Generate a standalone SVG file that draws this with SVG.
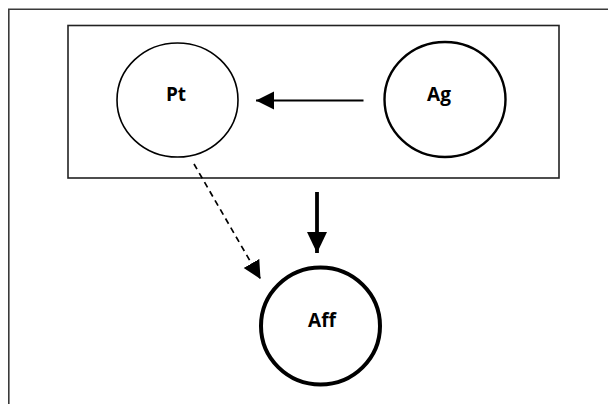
<svg xmlns="http://www.w3.org/2000/svg" width="608" height="404" viewBox="0 0 608 404">
<style>
.lbl{font-family:"Open Sans","Noto Sans","Liberation Sans",sans-serif;font-weight:bold;font-size:19px;fill:#000;text-anchor:middle}
.frame{fill:none;stroke:#3a3a3a;stroke-width:1.6}
</style>
<defs>
<marker id="ah" markerUnits="userSpaceOnUse" markerWidth="20" markerHeight="20" refX="18" refY="9" orient="auto">
<path d="M0,0 L18,9 L0,18 Z" fill="#000"/>
</marker>
<marker id="ahBig" markerUnits="userSpaceOnUse" markerWidth="22" markerHeight="22" refX="21" refY="10" orient="auto">
<path d="M0,0 L21,10 L0,20 Z" fill="#000"/>
</marker>
</defs>
<rect width="608" height="404" fill="#fff"/>
<path class="frame" d="M8.8,404 V9.3 H608"/>
<g id="group-box"><rect x="68" y="25.5" width="491" height="152.5" fill="none" stroke="#222" stroke-width="1.6"/></g>
<g id="node-pt">
<ellipse cx="177.5" cy="100" rx="60.5" ry="57" fill="none" stroke="#000" stroke-width="1.6"/>
<text class="lbl" x="176" y="100.5">Pt</text>
</g>
<g id="node-ag">
<ellipse cx="445" cy="99.5" rx="60.5" ry="57.5" fill="none" stroke="#000" stroke-width="2.4"/>
<text class="lbl" x="439" y="100.5">Ag</text>
</g>
<g id="node-aff">
<ellipse cx="320.5" cy="326" rx="59.5" ry="58.5" fill="none" stroke="#000" stroke-width="4"/>
<text class="lbl" x="322" y="326.5">Aff</text>
</g>
<g id="connectors">
<line x1="363.5" y1="100.5" x2="256" y2="100.5" stroke="#000" stroke-width="1.8" marker-end="url(#ah)"/>
<line x1="317" y1="192" x2="317" y2="253" stroke="#000" stroke-width="3.8" marker-end="url(#ahBig)"/>
<line x1="194" y1="164" x2="260.5" y2="279" stroke="#000" stroke-width="1.7" stroke-dasharray="6,4.5" marker-end="url(#ah)"/>
</g>
</svg>
